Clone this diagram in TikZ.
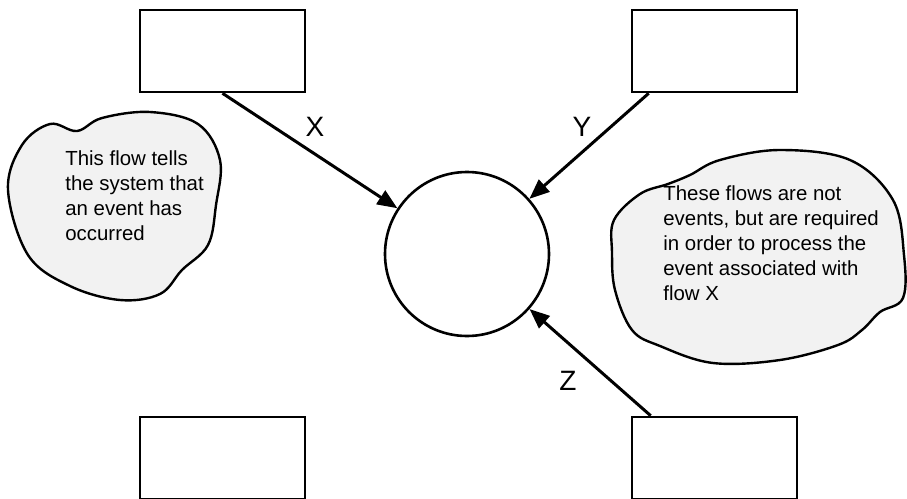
\documentclass[tikz,border=0pt]{standalone}
\usepackage{fontspec}
\setmainfont{Liberation Sans}
\usetikzlibrary{arrows.meta}

\begin{document}
\begin{tikzpicture}[x=0.5pt, y=-0.5pt,
  box/.style={draw, line width=1.3pt, minimum width=82.5pt, minimum height=41pt, inner sep=0pt},
  flow/.style={-{Triangle[length=10pt,width=8pt]}, line width=1.5pt},
  blob/.style={draw, line width=1.2pt, fill=black!5},
  note/.style={anchor=north west, align=left, inner sep=0pt, font=\fontsize{10.2}{12.5}\selectfont},
  lbl/.style={font=\fontsize{14}{16}\selectfont}]
\useasboundingbox (0,0) rectangle (907,499);
\draw[blob] plot[smooth cycle, tension=0.6] coordinates {(8,190) (22,145) (50,124) (77,131) (102,118) (150,112) (198,124) (220,160) (216,205) (208,245) (182,270) (160,294) (120,300) (70,286) (28,255)};
\draw[blob] plot[smooth cycle, tension=0.6] coordinates {(614,220) (640,194) (668,184) (690,175) (720,160) (780,150) (850,160) (893,200) (904,255) (903,298) (880,312) (862,330) (838,345) (780,360) (713,363) (660,346) (632,330) (615,290) (612,252)};
\node[note] (ncx) at (65,150) {This flow tells\\the system that\\an event has\\occurred};
\node[note] (ncy) at (663,185) {These flows are not\\events, but are required\\in order to process the\\event associated with\\flow X};
\node[box] (srcx) at (222.5,51) {};
\node[box] (srcy) at (714.5,51) {};
\node[box] (sinkl) at (222.5,458) {};
\node[box] (srcz) at (714.5,458) {};
\node[draw, circle, line width=1.3pt, minimum size=82pt, inner sep=0pt] (proc) at (467,254) {};
\coordinate (ys) at ([xshift=9pt]srcy.south west);
\coordinate (zs) at ([xshift=10pt]srcz.north west);
\draw[flow] (srcx.south) -- (proc);
\draw[flow] (ys) -- (proc);
\draw[flow] (zs) -- (proc);
\node[lbl] (lx) at (315,127) {X};
\node[lbl] (ly) at (582,127) {Y};
\node[lbl] (lz) at (568,381) {Z};
\end{tikzpicture}
\end{document}
